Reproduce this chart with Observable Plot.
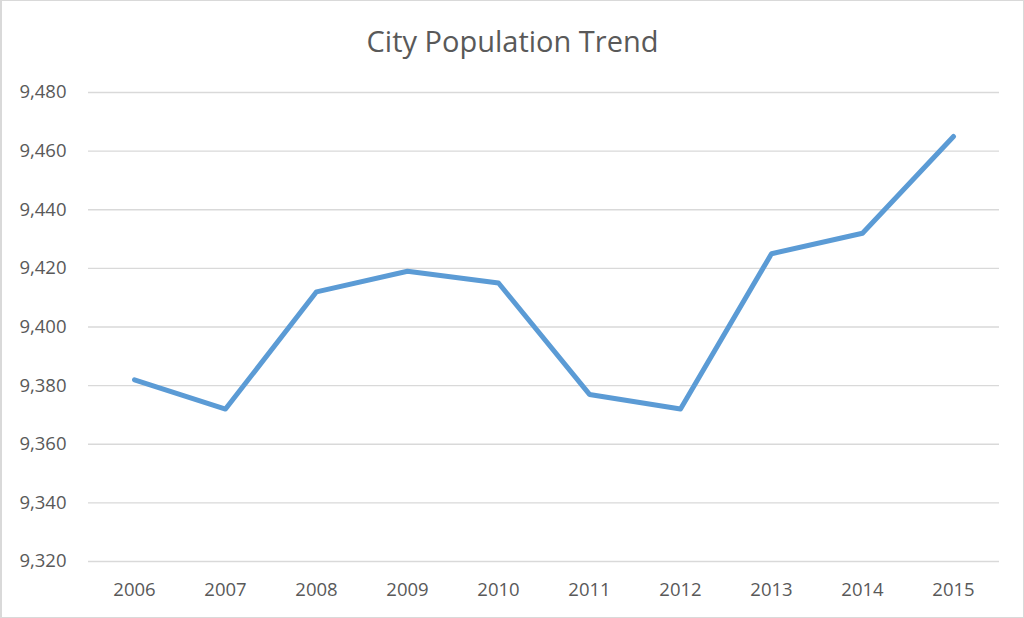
<!DOCTYPE html>
<html>
<head>
<meta charset="utf-8">
<script src="https://cdn.jsdelivr.net/npm/d3@7"></script>
<script src="https://cdn.jsdelivr.net/npm/@observablehq/plot@0.6"></script>
<style>
  html, body { margin: 0; padding: 0; background: #fff; }
  #wrap { position: relative; width: 1024px; height: 618px; box-sizing: border-box; border: 1px solid #d9d9d9; border-left-width: 2px; overflow: hidden; }
  #title { height: 70px; line-height: 80px; text-align: center; font-family: "Open Sans", sans-serif; font-size: 29px; color: #595959; }
  #chart svg { display: block; }
</style>
</head>
<body>
<div id="wrap">
  <div id="title">City Population Trend</div>
  <div id="chart"></div>
</div>
<script>
const years = ["2006","2007","2008","2009","2010","2011","2012","2013","2014","2015"];
const population = [9382, 9372, 9412, 9419, 9415, 9377, 9372, 9425, 9432, 9465];
const yTicks = [9320, 9340, 9360, 9380, 9400, 9420, 9440, 9460, 9480];

const data = years.map((y, i) => ({year: y, value: population[i]}));
const fmt = d3.format(",");

const chart = Plot.plot({
  width: 1021,
  height: 546,
  marginTop: 21,
  marginBottom: 56,
  marginLeft: 86,
  marginRight: 24,
  style: { fontFamily: "Open Sans, sans-serif", fontSize: "18.5px", color: "#595959", background: "#fff" },
  x: { type: "point", domain: years, padding: 0.5, label: null, tickSize: 0, tickPadding: 21 },
  y: { domain: [9320, 9480], ticks: yTicks, tickFormat: fmt, label: null, tickSize: 0, tickPadding: 22 },
  marks: [
    Plot.ruleY(yTicks, { stroke: "#d9d9d9", strokeWidth: 1.3 }),
    Plot.line(data, { x: "year", y: "value", stroke: "#5b9bd5", strokeWidth: 5, strokeLinecap: "round", strokeLinejoin: "round" })
  ]
});
document.getElementById("chart").appendChild(chart);
</script>
</body>
</html>
